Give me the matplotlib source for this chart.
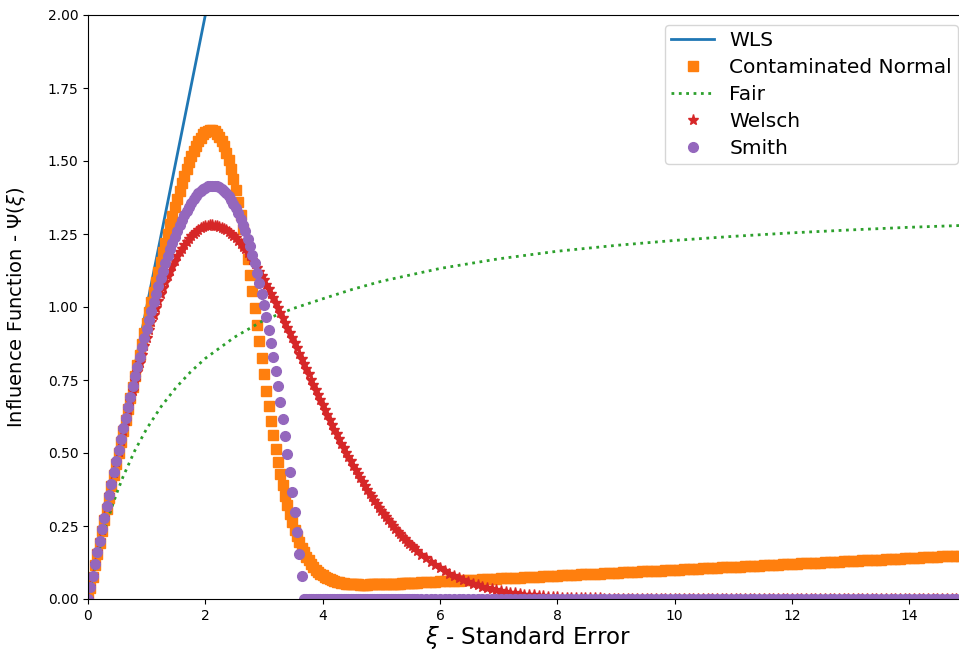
import numpy as np
import matplotlib.pyplot as plt

# ---------------------- Data ----------------------
# sampling positions of the standard error axis: fine grid up to 5.6, coarser after
xi_dense = np.round(np.arange(0, 5.61, 0.04), 2)
xi_tail = np.round(np.arange(5.68, 14.97, 0.08), 2)
xi = np.concatenate([xi_dense, xi_tail])

wls_x = [0.0, 15.0]
wls_psi = [0.0, 15.0]

fair_x = [0.0, 0.1, 0.2, 0.3, 0.4, 0.5, 0.6, 0.8, 1.0, 1.25, 1.5, 1.75, 2.0, 2.5,
          3.0, 3.5, 4.0, 4.5, 5.0, 6.0, 7.0, 8.0, 9.0, 10.0, 11.0, 12.0, 13.0, 14.0, 15.0]
fair_psi = [0.0, 0.093, 0.175, 0.247, 0.311, 0.368, 0.420, 0.509, 0.583, 0.660, 0.724,
            0.778, 0.824, 0.897, 0.955, 0.995, 1.028, 1.060, 1.088, 1.132, 1.165, 1.191,
            1.211, 1.228, 1.242, 1.254, 1.264, 1.273, 1.280]

cn_dense = [
    0.000, 0.039, 0.077, 0.116, 0.155, 0.193, 0.232, 0.270, 0.309, 0.347,
    0.386, 0.424, 0.462, 0.500, 0.538, 0.576, 0.614, 0.652, 0.689, 0.726,
    0.764, 0.801, 0.837, 0.874, 0.910, 0.946, 0.982, 1.017, 1.052, 1.087,
    1.121, 1.154, 1.187, 1.220, 1.251, 1.283, 1.313, 1.342, 1.371, 1.398,
    1.424, 1.450, 1.473, 1.496, 1.516, 1.535, 1.552, 1.567, 1.580, 1.591,
    1.599, 1.604, 1.606, 1.606, 1.602, 1.594, 1.583, 1.569, 1.550, 1.528,
    1.502, 1.472, 1.438, 1.401, 1.360, 1.315, 1.268, 1.217, 1.165, 1.110,
    1.054, 0.997, 0.940, 0.882, 0.825, 0.769, 0.714, 0.660, 0.609, 0.560,
    0.513, 0.469, 0.428, 0.390, 0.354, 0.321, 0.291, 0.263, 0.238, 0.215,
    0.195, 0.176, 0.160, 0.145, 0.132, 0.120, 0.110, 0.101, 0.093, 0.087,
    0.081, 0.075, 0.071, 0.067, 0.064, 0.061, 0.059, 0.057, 0.055, 0.054,
    0.053, 0.052, 0.051, 0.050, 0.050, 0.050, 0.049, 0.049, 0.049, 0.049,
    0.050, 0.050, 0.050, 0.050, 0.050, 0.051, 0.051, 0.051, 0.052, 0.052,
    0.052, 0.053, 0.053, 0.053, 0.054, 0.054, 0.054, 0.055, 0.055, 0.056,
    0.056,
]
cn_tail = [
    0.0568, 0.0576, 0.0584, 0.0592, 0.0600, 0.0608, 0.0616, 0.0624, 0.0632, 0.0640,
    0.0648, 0.0656, 0.0664, 0.0672, 0.0680, 0.0688, 0.0696, 0.0704, 0.0712, 0.0720,
    0.0728, 0.0736, 0.0744, 0.0752, 0.0760, 0.0768, 0.0776, 0.0784, 0.0792, 0.0800,
    0.0808, 0.0816, 0.0824, 0.0832, 0.0840, 0.0848, 0.0856, 0.0864, 0.0872, 0.0880,
    0.0888, 0.0896, 0.0904, 0.0912, 0.0920, 0.0928, 0.0936, 0.0944, 0.0952, 0.0960,
    0.0968, 0.0976, 0.0984, 0.0992, 0.1000, 0.1008, 0.1016, 0.1024, 0.1032, 0.1040,
    0.1048, 0.1056, 0.1064, 0.1072, 0.1080, 0.1088, 0.1096, 0.1104, 0.1112, 0.1120,
    0.1128, 0.1136, 0.1144, 0.1152, 0.1160, 0.1168, 0.1176, 0.1184, 0.1192, 0.1200,
    0.1208, 0.1216, 0.1224, 0.1232, 0.1240, 0.1248, 0.1256, 0.1264, 0.1272, 0.1280,
    0.1288, 0.1296, 0.1304, 0.1312, 0.1320, 0.1328, 0.1336, 0.1344, 0.1352, 0.1360,
    0.1368, 0.1376, 0.1384, 0.1392, 0.1400, 0.1408, 0.1416, 0.1424, 0.1432, 0.1440,
    0.1448, 0.1456, 0.1464, 0.1472, 0.1480, 0.1488, 0.1496,
]

welsch_dense = [
    0.000, 0.040, 0.080, 0.120, 0.160, 0.199, 0.238, 0.278, 0.316, 0.355,
    0.393, 0.431, 0.468, 0.504, 0.541, 0.576, 0.611, 0.646, 0.679, 0.712,
    0.745, 0.776, 0.807, 0.837, 0.866, 0.894, 0.921, 0.947, 0.973, 0.997,
    1.021, 1.043, 1.065, 1.085, 1.105, 1.123, 1.141, 1.157, 1.173, 1.187,
    1.200, 1.213, 1.224, 1.234, 1.243, 1.251, 1.258, 1.264, 1.269, 1.273,
    1.276, 1.279, 1.280, 1.280, 1.279, 1.278, 1.275, 1.272, 1.268, 1.263,
    1.257, 1.251, 1.243, 1.235, 1.227, 1.217, 1.207, 1.197, 1.185, 1.174,
    1.161, 1.148, 1.135, 1.121, 1.107, 1.092, 1.077, 1.062, 1.046, 1.030,
    1.014, 0.997, 0.980, 0.963, 0.946, 0.929, 0.911, 0.894, 0.876, 0.858,
    0.840, 0.822, 0.805, 0.787, 0.769, 0.751, 0.733, 0.716, 0.698, 0.681,
    0.664, 0.647, 0.630, 0.613, 0.596, 0.580, 0.564, 0.547, 0.532, 0.516,
    0.501, 0.486, 0.471, 0.456, 0.442, 0.428, 0.414, 0.400, 0.387, 0.374,
    0.361, 0.349, 0.337, 0.325, 0.313, 0.302, 0.291, 0.280, 0.270, 0.260,
    0.250, 0.240, 0.231, 0.222, 0.213, 0.205, 0.196, 0.188, 0.180, 0.173,
    0.166,
]
welsch_tail = [
    0.152, 0.139, 0.127, 0.116, 0.105, 0.096, 0.087, 0.079, 0.071, 0.064,
    0.058, 0.052, 0.047, 0.042, 0.038, 0.034, 0.030, 0.027, 0.024, 0.021,
    0.019, 0.017, 0.015, 0.013, 0.012, 0.010, 0.009, 0.008, 0.007, 0.006,
    0.005, 0.005, 0.004, 0.004, 0.003, 0.003, 0.002, 0.002, 0.002, 0.001,
    0.001, 0.001, 0.001, 0.001, 0.001, 0.001, 0.0, 0.0, 0.0, 0.0,
    0.0, 0.0, 0.0, 0.0, 0.0, 0.0, 0.0, 0.0, 0.0, 0.0,
    0.0, 0.0, 0.0, 0.0, 0.0, 0.0, 0.0, 0.0, 0.0, 0.0,
    0.0, 0.0, 0.0, 0.0, 0.0, 0.0, 0.0, 0.0, 0.0, 0.0,
    0.0, 0.0, 0.0, 0.0, 0.0, 0.0, 0.0, 0.0, 0.0, 0.0,
    0.0, 0.0, 0.0, 0.0, 0.0, 0.0, 0.0, 0.0, 0.0, 0.0,
    0.0, 0.0, 0.0, 0.0, 0.0, 0.0, 0.0, 0.0, 0.0, 0.0,
    0.0, 0.0, 0.0, 0.0, 0.0, 0.0, 0.0,
]

smith_dense = [
    0.000, 0.040, 0.080, 0.120, 0.160, 0.199, 0.239, 0.278, 0.318, 0.357,
    0.395, 0.434, 0.472, 0.510, 0.547, 0.584, 0.621, 0.657, 0.692, 0.728,
    0.762, 0.796, 0.830, 0.863, 0.895, 0.926, 0.957, 0.987, 1.016, 1.045,
    1.072, 1.099, 1.125, 1.150, 1.174, 1.197, 1.220, 1.241, 1.261, 1.280,
    1.298, 1.314, 1.330, 1.344, 1.357, 1.369, 1.380, 1.389, 1.397, 1.404,
    1.409, 1.413, 1.416, 1.416, 1.416, 1.414, 1.410, 1.405, 1.398, 1.389,
    1.379, 1.367, 1.354, 1.338, 1.321, 1.302, 1.281, 1.259, 1.234, 1.208,
    1.179, 1.149, 1.116, 1.082, 1.045, 1.006, 0.965, 0.922, 0.877, 0.830,
    0.780, 0.728, 0.674, 0.618, 0.559, 0.498, 0.434, 0.368, 0.299, 0.228,
    0.155, 0.079, 0.0, 0.0, 0.0, 0.0, 0.0, 0.0, 0.0, 0.0,
    0.0, 0.0, 0.0, 0.0, 0.0, 0.0, 0.0, 0.0, 0.0, 0.0,
    0.0, 0.0, 0.0, 0.0, 0.0, 0.0, 0.0, 0.0, 0.0, 0.0,
    0.0, 0.0, 0.0, 0.0, 0.0, 0.0, 0.0, 0.0, 0.0, 0.0,
    0.0, 0.0, 0.0, 0.0, 0.0, 0.0, 0.0, 0.0, 0.0, 0.0,
    0.0,
]
smith_tail = [
    0.0, 0.0, 0.0, 0.0, 0.0, 0.0, 0.0, 0.0, 0.0, 0.0,
    0.0, 0.0, 0.0, 0.0, 0.0, 0.0, 0.0, 0.0, 0.0, 0.0,
    0.0, 0.0, 0.0, 0.0, 0.0, 0.0, 0.0, 0.0, 0.0, 0.0,
    0.0, 0.0, 0.0, 0.0, 0.0, 0.0, 0.0, 0.0, 0.0, 0.0,
    0.0, 0.0, 0.0, 0.0, 0.0, 0.0, 0.0, 0.0, 0.0, 0.0,
    0.0, 0.0, 0.0, 0.0, 0.0, 0.0, 0.0, 0.0, 0.0, 0.0,
    0.0, 0.0, 0.0, 0.0, 0.0, 0.0, 0.0, 0.0, 0.0, 0.0,
    0.0, 0.0, 0.0, 0.0, 0.0, 0.0, 0.0, 0.0, 0.0, 0.0,
    0.0, 0.0, 0.0, 0.0, 0.0, 0.0, 0.0, 0.0, 0.0, 0.0,
    0.0, 0.0, 0.0, 0.0, 0.0, 0.0, 0.0, 0.0, 0.0, 0.0,
    0.0, 0.0, 0.0, 0.0, 0.0, 0.0, 0.0, 0.0, 0.0, 0.0,
    0.0, 0.0, 0.0, 0.0, 0.0, 0.0, 0.0,
]

cn_psi = cn_dense + cn_tail
welsch_psi = welsch_dense + welsch_tail
smith_psi = smith_dense + smith_tail

# ---------------------- Plot ----------------------
fig = plt.figure(figsize=(9.59, 6.54), dpi=100)
ax = fig.add_axes([88 / 959, 55 / 654, 880 / 959, 584 / 654])

ax.plot(wls_x, wls_psi, "-", color="C0", lw=2, label="WLS")
ax.plot(xi, cn_psi, "s", color="C1", ms=7, label="Contaminated Normal")
ax.plot(fair_x, fair_psi, ":", color="C2", lw=2, label="Fair")
ax.plot(xi, welsch_psi, "*", color="C3", ms=8, label="Welsch")
ax.plot(xi, smith_psi, "o", color="C4", ms=7, label="Smith")

ax.set_xlim(0, 15)
ax.set_ylim(0, 2)
ax.set_xlabel(r"$\xi$ - Standard Error", fontsize=16.5, labelpad=1)
ax.set_ylabel(r"Influence Function - $\Psi(\xi)$", fontsize=14)
ax.yaxis.set_label_coords(-0.068, 0.5)

ax.legend(loc="upper right", fontsize=14.5, handlelength=2.1, handletextpad=0.77,
          labelspacing=0.4, borderpad=0.3)

fig.savefig("out.png", dpi=100)
plt.close()
